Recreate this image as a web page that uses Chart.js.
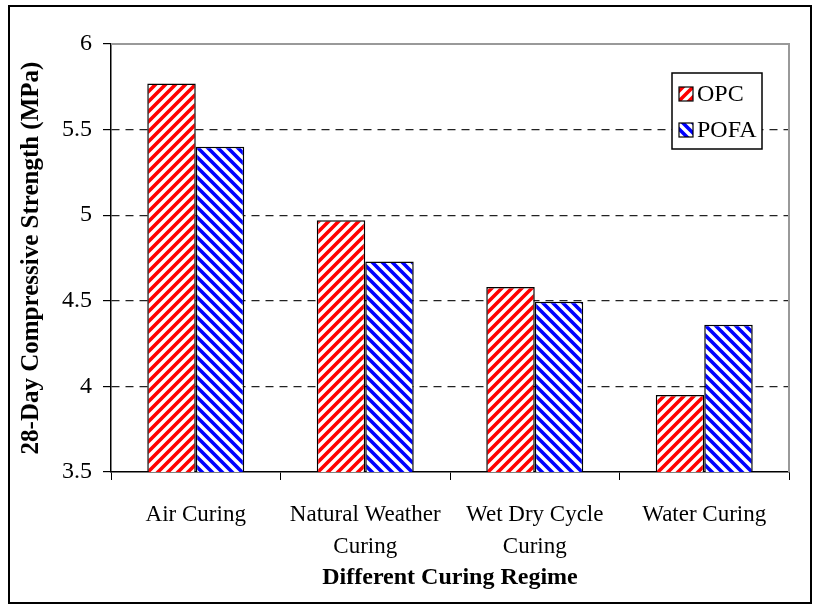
<!DOCTYPE html>
<html>
<head>
<meta charset="utf-8">
<script src="https://cdn.jsdelivr.net/npm/chart.js@4"></script>
<style>
  html, body { margin: 0; padding: 0; background: #fff; }
  #wrap { width: 814px; height: 606px; }
</style>
</head>
<body>
<div id="wrap"><canvas id="myChart"></canvas></div>
<script>
// data
const categories = [['Air Curing'], ['Natural Weather', 'Curing'], ['Wet Dry Cycle', 'Curing'], ['Water Curing']];
const seriesNames = ['OPC', 'POFA'];
const opcValues = [5.77, 4.97, 4.58, 3.95];
const pofaValues = [5.40, 4.73, 4.495, 4.36];
const yMin = 3.5, yMax = 6, yStep = 0.5;

const serif = '"Liberation Serif", "Times New Roman", serif';

// hatch fills
function hatch(color, dir) {
  const n = 10;
  const c = document.createElement('canvas');
  c.width = n; c.height = n;
  const g = c.getContext('2d');
  g.fillStyle = '#fff';
  g.fillRect(0, 0, n, n);
  g.strokeStyle = color;
  g.lineWidth = 3.6;
  g.beginPath();
  if (dir > 0) {
    g.moveTo(-2, n + 2); g.lineTo(n + 2, -2);
    g.moveTo(-2, 2); g.lineTo(2, -2);
    g.moveTo(n - 2, n + 2); g.lineTo(n + 2, n - 2);
  } else {
    g.moveTo(-2, -2); g.lineTo(n + 2, n + 2);
    g.moveTo(-2, n - 2); g.lineTo(2, n + 2);
    g.moveTo(n - 2, -2); g.lineTo(n + 2, 2);
  }
  g.stroke();
  return g.createPattern(c, 'repeat');
}
const fills = [hatch('#ff0000', 1), hatch('#0000ff', -1)];

const framePlugin = {
  id: 'frame',
  beforeDraw(chart) {
    const ctx = chart.ctx;
    ctx.save();
    ctx.strokeStyle = '#000';
    ctx.lineWidth = 2;
    ctx.strokeRect(9, 6, 802, 597);
    ctx.restore();
  },
  afterDatasetsDraw(chart) {
    const {ctx, chartArea: a} = chart;
    ctx.save();
    ctx.strokeStyle = '#999';
    ctx.lineWidth = 2;
    ctx.beginPath();
    ctx.moveTo(a.left, a.top);
    ctx.lineTo(a.right, a.top);
    ctx.lineTo(a.right, a.bottom);
    ctx.stroke();
    ctx.restore();
  }
};

const legendBox = {
  id: 'legendBox',
  afterDraw(chart) {
    const {ctx, chartArea: a} = chart;
    const right = a.right - 27, top = a.top + 29, w = 90, h = 76;
    ctx.save();
    ctx.fillStyle = '#fff';
    ctx.fillRect(right - w, top, w, h);
    ctx.strokeStyle = '#000';
    ctx.lineWidth = 1.5;
    ctx.strokeRect(right - w, top, w, h);
    ctx.font = '24px ' + serif;
    ctx.textBaseline = 'middle';
    chart.data.datasets.forEach((ds, i) => {
      const cy = top + 21 + i * 36;
      const sx = right - w + 7;
      ctx.fillStyle = ds.backgroundColor;
      ctx.fillRect(sx, cy - 7, 14, 14);
      ctx.strokeStyle = '#000';
      ctx.lineWidth = 1.2;
      ctx.strokeRect(sx, cy - 7, 14, 14);
      ctx.fillStyle = '#000';
      ctx.fillText(ds.label, sx + 18, cy + 1);
    });
    ctx.restore();
  }
};

const ctx = document.getElementById('myChart');

new Chart(ctx, {
  type: 'bar',
  data: {
    labels: categories,
    datasets: [{
      label: seriesNames[0],
      data: opcValues,
      backgroundColor: fills[0],
      borderColor: '#000',
      borderWidth: 1.5
    }, {
      label: seriesNames[1],
      data: pofaValues,
      backgroundColor: fills[1],
      borderColor: '#000',
      borderWidth: 1.5
    }]
  },
  options: {
    responsive: true,
    maintainAspectRatio: false,
    animation: false,
    devicePixelRatio: 1,
    layout: {
      padding: {left: 0, top: 44, right: 25, bottom: 0}
    },
    categoryPercentage: 0.572,
    barPercentage: 1,
    plugins: {
      legend: {display: false},
      tooltip: {enabled: false}
    },
    scales: {
      x: {
        afterFit: (s) => { s.height = 134; },
        grid: {
          offset: true,
          drawOnChartArea: false,
          tickLength: 8,
          color: '#000',
          tickColor: '#000'
        },
        border: {color: '#000', width: 1.5},
        ticks: {
          color: '#000',
          padding: 19,
          maxRotation: 0,
          font: {family: serif, size: 23, lineHeight: 1.4}
        },
        title: {
          display: true,
          text: 'Different Curing Regime',
          color: '#000',
          font: {family: serif, size: 24, weight: 'bold'},
          padding: {top: 0, bottom: 14}
        }
      },
      y: {
        min: yMin,
        max: yMax,
        afterFit: (s) => { s.width = 111; },
        ticks: {
          stepSize: yStep,
          color: '#000',
          padding: 11,
          font: {family: serif, size: 24},
          callback: (v) => String(v)
        },
        grid: {
          tickLength: 8,
          lineWidth: 1.2,
          color: (c) => (c.tick && (c.tick.value === yMax || c.tick.value === yMin)) ? 'rgba(0,0,0,0)' : '#222',
          tickColor: '#000',
          tickBorderDash: []
        },
        border: {color: '#000', width: 1.5, dash: [8, 6]},
        title: {
          display: true,
          text: '28-Day Compressive Strength (MPa)',
          color: '#000',
          font: {family: serif, size: 25, weight: 'bold'},
          padding: {top: 17, bottom: 0}
        }
      }
    }
  },
  plugins: [framePlugin, legendBox]
});
</script>
</body>
</html>
